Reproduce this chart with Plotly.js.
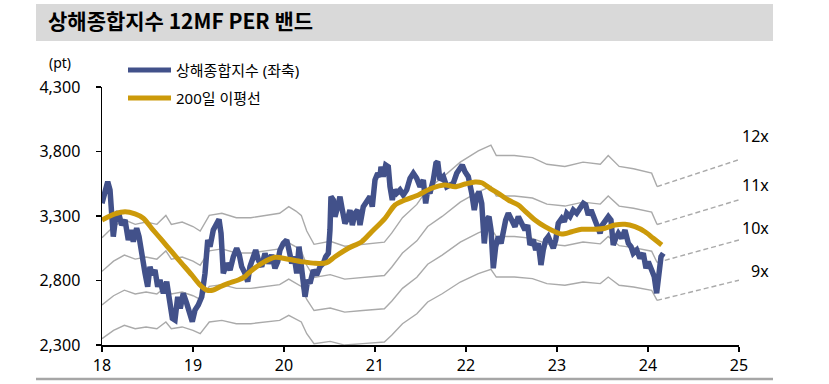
<!DOCTYPE html>
<html>
<head>
<meta charset="utf-8">
<script src="https://cdn.plot.ly/plotly-3.0.1.min.js"></script>
<style>
html,body{margin:0;padding:0;background:#fff;}
#chart{width:829px;height:384px;}
</style>
</head>
<body>
<div id="chart"></div>
<script>
// ---- Data ----
const titleText = '상해종합지수 12MF PER 밴드';
const seriesNames = ['상해종합지수 (좌축)', '200일 이평선'];
const xTickVals = [2018, 2019, 2020, 2021, 2022, 2023, 2024, 2025];
const xTickText = ['18', '19', '20', '21', '22', '23', '24', '25'];
const yTickVals = [2300, 2800, 3300, 3800, 4300];
const multiples = [9, 10, 11, 12];
const multipleLabels = ['9x', '10x', '11x', '12x'];

// Shanghai Composite index (decimal year, pt)
const idxT = [2018.000,2018.063,2018.088,2018.107,2018.124,2018.151,2018.179,2018.216,2018.253,2018.289,2018.319,2018.344,2018.381,2018.407,2018.436,2018.473,2018.502,2018.527,2018.553,2018.582,2018.612,2018.637,2018.674,2018.711,2018.736,2018.773,2018.802,2018.832,2018.860,2018.893,2018.931,2018.967,2018.992,2019.022,2019.058,2019.096,2019.132,2019.162,2019.187,2019.223,2019.260,2019.286,2019.308,2019.333,2019.370,2019.407,2019.443,2019.480,2019.509,2019.535,2019.571,2019.601,2019.626,2019.663,2019.689,2019.718,2019.755,2019.791,2019.827,2019.865,2019.901,2019.931,2019.956,2019.992,2020.030,2020.055,2020.085,2020.113,2020.140,2020.165,2020.187,2020.212,2020.231,2020.260,2020.286,2020.322,2020.359,2020.396,2020.432,2020.458,2020.487,2020.505,2020.516,2020.542,2020.560,2020.590,2020.615,2020.641,2020.670,2020.700,2020.725,2020.751,2020.780,2020.810,2020.835,2020.871,2020.909,2020.945,2020.970,2021.000,2021.030,2021.055,2021.066,2021.091,2021.118,2021.146,2021.165,2021.190,2021.212,2021.238,2021.275,2021.311,2021.348,2021.385,2021.421,2021.458,2021.495,2021.531,2021.557,2021.579,2021.604,2021.641,2021.670,2021.689,2021.714,2021.751,2021.788,2021.824,2021.860,2021.898,2021.934,2021.959,2021.989,2022.025,2022.063,2022.091,2022.118,2022.143,2022.173,2022.201,2022.227,2022.253,2022.275,2022.300,2022.326,2022.355,2022.385,2022.410,2022.436,2022.465,2022.502,2022.538,2022.575,2022.612,2022.648,2022.678,2022.703,2022.740,2022.766,2022.795,2022.824,2022.849,2022.876,2022.904,2022.934,2022.959,2022.986,2023.014,2023.052,2023.080,2023.107,2023.143,2023.179,2023.216,2023.253,2023.289,2023.315,2023.344,2023.374,2023.410,2023.447,2023.473,2023.498,2023.527,2023.564,2023.593,2023.618,2023.645,2023.674,2023.711,2023.747,2023.784,2023.813,2023.838,2023.876,2023.912,2023.948,2023.978,2024.003,2024.040,2024.069,2024.095,2024.121,2024.143,2024.168];
const idxV = [3398,3566,3502,3295,3140,3295,3333,3230,3269,3114,3191,3101,3205,3140,2998,2856,2752,2907,2843,2881,2752,2804,2701,2791,2674,2507,2494,2674,2584,2701,2623,2519,2481,2571,2610,2674,2856,3114,3062,3191,3243,3274,3166,2856,2933,2881,2984,3050,2998,2907,2856,2791,2907,2984,3036,2959,2907,3011,2933,2998,2895,2946,3036,3088,3114,3036,2933,2984,2856,3062,2933,2726,2674,2804,2778,2881,2843,2907,2933,2984,3011,3191,3450,3424,3295,3372,3450,3346,3243,3282,3346,3230,3321,3346,3230,3372,3424,3450,3372,3579,3631,3605,3682,3605,3695,3682,3527,3424,3502,3476,3502,3463,3502,3592,3631,3592,3527,3579,3398,3502,3476,3579,3709,3721,3579,3605,3527,3540,3553,3631,3682,3695,3643,3605,3476,3346,3450,3488,3398,3088,3269,3295,3191,2895,3062,3140,3088,3191,3269,3321,3269,3217,3295,3243,3191,3230,3075,3114,3036,3088,2920,3036,3114,3140,3088,3050,3114,3243,3282,3256,3321,3295,3346,3321,3360,3398,3385,3308,3346,3282,3230,3166,3230,3256,3295,3269,3075,3127,3166,3127,3191,3088,3062,3011,3036,2972,3011,2895,2946,2881,2829,2701,2856,2984,3011];

// 200-day moving average (decimal year, pt)
const maT = [2018.000,2018.143,2018.253,2018.363,2018.454,2018.546,2018.656,2018.766,2018.876,2018.986,2019.077,2019.151,2019.223,2019.297,2019.388,2019.498,2019.571,2019.608,2019.755,2019.901,2020.047,2020.195,2020.341,2020.469,2020.560,2020.707,2020.854,2020.964,2021.110,2021.220,2021.330,2021.476,2021.623,2021.769,2021.879,2021.989,2022.099,2022.173,2022.264,2022.355,2022.465,2022.575,2022.648,2022.758,2022.868,2022.978,2023.052,2023.162,2023.271,2023.418,2023.527,2023.637,2023.747,2023.857,2023.967,2024.058,2024.151];
const maV = [3269,3316,3333,3316,3282,3205,3114,3023,2933,2843,2765,2726,2726,2752,2778,2804,2830,2856,2933,2980,2964,2946,2933,2938,2984,3050,3101,3178,3282,3385,3424,3463,3515,3540,3527,3548,3564,3558,3515,3476,3424,3385,3338,3269,3217,3178,3160,3178,3197,3197,3205,3230,3236,3217,3178,3127,3075];

// 12-month forward EPS (pt) behind the PER bands
const epsT = [2018.000,2018.127,2018.246,2018.365,2018.484,2018.603,2018.702,2018.762,2018.881,2019.000,2019.079,2019.179,2019.317,2019.476,2019.635,2019.794,2019.952,2020.052,2020.131,2020.190,2020.250,2020.330,2020.508,2020.667,2020.865,2021.103,2021.183,2021.302,2021.460,2021.579,2021.738,2021.937,2022.135,2022.274,2022.333,2022.532,2022.730,2022.889,2023.087,2023.286,2023.476,2023.563,2023.683,2023.841,2024.040,2024.100];
const epsV = [261.0,268.2,272.5,269.6,271.1,269.6,275.4,269.6,271.1,268.2,265.3,275.4,276.8,273.9,273.9,275.4,276.8,281.1,278.2,275.4,265.3,256.7,258.7,255.5,256.7,258.1,263.9,273.9,282.5,292.6,299.7,309.8,317.0,320.8,314.1,314.1,312.7,308.4,307.0,309.8,308.4,314.1,307.0,305.5,302.7,294.0];
// Projection of the bands (dashed)
const extT = [2024.100, 2025.000];
const extEPS = [294.0, 311.4];

// ---- Styles ----
const BLUE = '#42518a';
const GOLD = '#cc9a0a';
const BAND = '#aaaaaa';
const FONT = '"Noto Sans", "Noto Sans CJK KR", sans-serif';

const traces = [];
multiples.forEach(function (m) {
  traces.push({
    x: epsT, y: epsV.map(function (e) { return e * m; }),
    type: 'scatter', mode: 'lines', showlegend: false, hoverinfo: 'skip',
    line: {color: BAND, width: 1.4}
  });
  traces.push({
    x: extT, y: extEPS.map(function (e) { return e * m; }),
    type: 'scatter', mode: 'lines', showlegend: false, hoverinfo: 'skip',
    line: {color: BAND, width: 1.4, dash: '5px,3px'}
  });
});
traces.push({
  x: idxT, y: idxV, name: seriesNames[0], type: 'scatter', mode: 'lines',
  showlegend: false, line: {color: BLUE, width: 5.5, shape: 'linear'}
});
traces.push({
  x: maT, y: maV, name: seriesNames[1], type: 'scatter', mode: 'lines',
  showlegend: false, line: {color: GOLD, width: 5, shape: 'spline', smoothing: 0.8}
});

// pixel helpers for decorations (plot area: x 102..739, y 87..345)
function px(x) { return (x - 102) / 637; }
function py(y) { return (345 - y) / 258; }

const multLabelY = [271, 228, 185, 136];
const annotations = [];
multiples.forEach(function (m, i) {
  annotations.push({
    xref: 'paper', yref: 'paper', x: px(771), y: py(multLabelY[i]),
    xanchor: 'right', yanchor: 'middle', showarrow: false,
    text: multipleLabels[i], font: {family: FONT, size: 16, color: '#000'}
  });
});
annotations.push({
  xref: 'paper', yref: 'paper', x: px(60), y: py(62), xanchor: 'center', yanchor: 'middle',
  showarrow: false, text: '(pt)', font: {family: FONT, size: 14, color: '#000'}
});
annotations.push({
  xref: 'paper', yref: 'paper', x: px(174), y: py(70), xanchor: 'left', yanchor: 'middle',
  showarrow: false, text: seriesNames[0], font: {family: FONT, size: 15, color: '#000'}
});
annotations.push({
  xref: 'paper', yref: 'paper', x: px(174), y: py(98), xanchor: 'left', yanchor: 'middle',
  showarrow: false, text: seriesNames[1], font: {family: FONT, size: 15, color: '#000'}
});

const shapes = [
  {type: 'rect', xref: 'paper', yref: 'paper', x0: px(36), x1: px(773), y0: py(41), y1: py(4),
   fillcolor: '#d9d9d9', line: {width: 0}, layer: 'below'},
  {type: 'line', xref: 'paper', yref: 'paper', x0: px(36), x1: px(773), y0: py(379), y1: py(379),
   line: {color: '#a6a6a6', width: 2.5}},
  {type: 'line', xref: 'paper', yref: 'paper', x0: px(128), x1: px(171), y0: py(70), y1: py(70),
   line: {color: BLUE, width: 5}},
  {type: 'line', xref: 'paper', yref: 'paper', x0: px(128), x1: px(171), y0: py(98), y1: py(98),
   line: {color: GOLD, width: 5}}
];

const layout = {
  width: 829, height: 384,
  margin: {l: 102, r: 90, t: 87, b: 39, pad: 0},
  paper_bgcolor: '#fff', plot_bgcolor: '#fff',
  title: {
    text: titleText, xref: 'container', yref: 'container',
    x: 48 / 829, xanchor: 'left', y: 1 - 22 / 384, yanchor: 'middle',
    font: {family: '"Noto Sans CJK KR", sans-serif', size: 21, color: '#000', weight: 700}
  },
  showlegend: false,
  xaxis: {
    range: [2018, 2025], tickvals: xTickVals, ticktext: xTickText,
    showgrid: false, zeroline: false, showline: true, linecolor: '#000', linewidth: 1.5,
    ticks: 'outside', ticklen: 5, tickwidth: 1.5, tickcolor: '#000',
    tickfont: {family: FONT, size: 16, color: '#000'}, fixedrange: true
  },
  yaxis: {
    range: [2300, 4300], tickvals: yTickVals, tickformat: ',d',
    showgrid: false, zeroline: false, showline: true, linecolor: '#000', linewidth: 1.5,
    ticks: 'outside', ticklen: 5, tickwidth: 1.5, tickcolor: '#000',
    ticklabelstandoff: 12,
    tickfont: {family: FONT, size: 16, color: '#000'}, fixedrange: true
  },
  shapes: shapes,
  annotations: annotations
};

Plotly.newPlot('chart', traces, layout, {staticPlot: true, displayModeBar: false});
</script>
</body>
</html>
